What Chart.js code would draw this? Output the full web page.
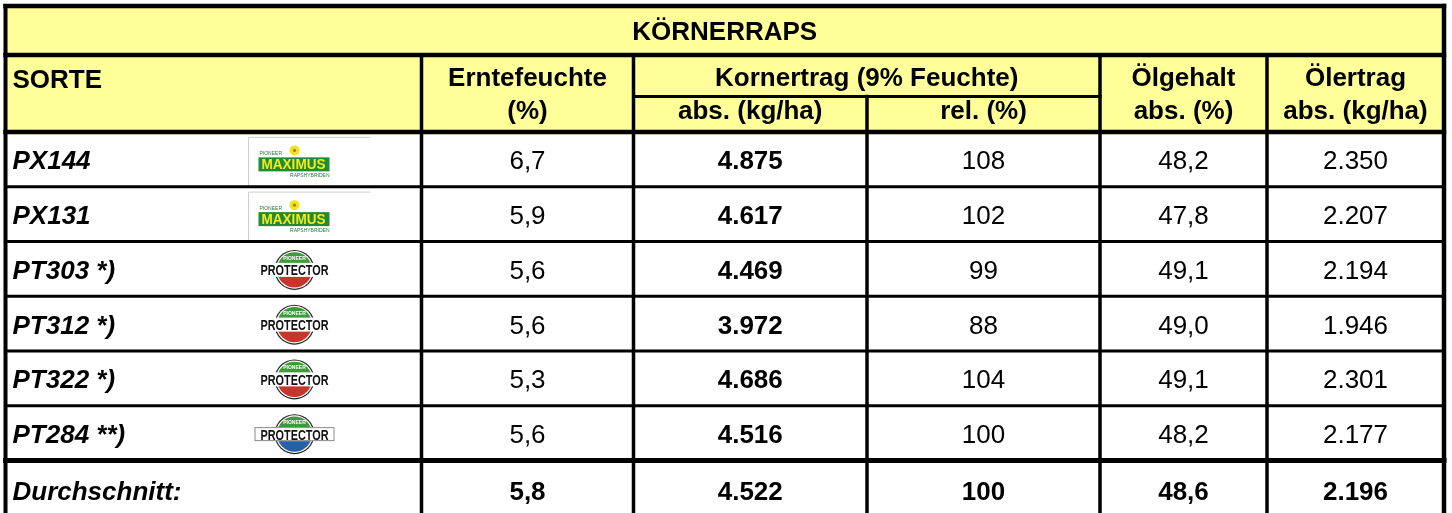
<!DOCTYPE html>
<html lang="de">
<head>
<meta charset="utf-8">
<title>Körnerraps</title>
<script src="https://cdn.jsdelivr.net/npm/chart.js@4.4.1/dist/chart.umd.min.js"></script>
<style>
    html, body { margin: 0; padding: 0; background: #fff; overflow: hidden; }
    #wrap { position: relative; width: 1452px; height: 520px; }
</style>
</head>
<body>
<div id="wrap"><canvas id="table-chart"></canvas></div>
<script>
// --- Data ---
const title = 'KÖRNERRAPS';
const sorten = ['PX144', 'PX131', 'PT303 *)', 'PT312 *)', 'PT322 *)', 'PT284 **)'];
const logos = ['maximus', 'maximus', 'protector', 'protector', 'protector', 'protector-blue'];
const erntefeuchte = [6.7, 5.9, 5.6, 5.6, 5.3, 5.6];
const kornertragAbs = [4875, 4617, 4469, 3972, 4686, 4516];
const kornertragRel = [108, 102, 99, 88, 104, 100];
const oelgehalt = [48.2, 47.8, 49.1, 49.0, 49.1, 48.2];
const oelertrag = [2350, 2207, 2194, 1946, 2301, 2177];
const durchschnittLabel = 'Durchschnitt:';
const durchschnitt = [5.8, 4522, 100, 48.6, 2196];
const decimals = [1, 0, 0, 1, 0];

// --- Layout (table units) ---
const colWidths = [416, 212, 233.5, 233, 167, 177];
const rowHeights = [49, 41.5, 35.5, 54.75, 54.75, 54.75, 54.75, 54.75, 54.75, 57];
const logoX = 288;
const YELLOW = '#ffff99';
const FONT = '"Liberation Sans", Arial, sans-serif';

const colEdges = colWidths.reduce((a, w) => { a.push(a[a.length - 1] + w); return a; }, [0]);
const rowEdges = rowHeights.reduce((a, h) => { a.push(a[a.length - 1] + h); return a; }, [0]);

function fmt(v, d) {
    const parts = v.toFixed(d).split('.');
    parts[0] = parts[0].replace(/\B(?=(\d{3})+(?!\d))/g, '.');
    return parts.join(',');
}

// --- Logo helpers ---
function drawMaximus(ctx, cx, cy) {
    // light frame
    ctx.strokeStyle = '#cfcfcf';
    ctx.lineWidth = 1;
    ctx.beginPath();
    ctx.moveTo(cx + 77, cy - 22);
    ctx.lineTo(cx - 45, cy - 22);
    ctx.lineTo(cx - 45, cy + 26);
    ctx.stroke();
    // green bar
    ctx.fillStyle = '#1e8a3a';
    ctx.fillRect(cx - 35, cy - 2, 71, 14);
    ctx.save();
    ctx.fillStyle = '#f4ea1c';
    ctx.font = 'bold 14px ' + FONT;
    ctx.textAlign = 'center';
    ctx.textBaseline = 'alphabetic';
    const w = ctx.measureText('MAXIMUS').width;
    ctx.translate(cx, cy + 10);
    ctx.scale(64 / w, 1);
    ctx.fillText('MAXIMUS', 0, 0);
    ctx.restore();
    // flower
    ctx.fillStyle = '#f6e21a';
    ctx.beginPath();
    ctx.arc(cx + 1, cy - 9, 5, 0, Math.PI * 2);
    ctx.fill();
    ctx.fillStyle = '#9a8a10';
    ctx.beginPath();
    ctx.arc(cx + 1, cy - 9, 1.6, 0, Math.PI * 2);
    ctx.fill();
    // tiny captions
    ctx.fillStyle = '#2a7a3a';
    ctx.font = '5px ' + FONT;
    ctx.textAlign = 'left';
    ctx.fillText('PIONEER', cx - 34, cy - 4);
    ctx.textAlign = 'right';
    ctx.fillText('RAPSHYBRIDEN', cx + 36, cy + 18);
}

function drawProtector(ctx, cx, cy, blue) {
    const r = 20;
    ctx.save();
    ctx.fillStyle = '#222';
    ctx.beginPath();
    ctx.arc(cx, cy, r, 0, Math.PI * 2);
    ctx.fill();
    ctx.fillStyle = '#fff';
    ctx.beginPath();
    ctx.arc(cx, cy, r - 1.2, 0, Math.PI * 2);
    ctx.fill();
    ctx.beginPath();
    ctx.arc(cx, cy, r - 2.4, 0, Math.PI * 2);
    ctx.clip();
    ctx.fillStyle = '#3f9a3a';
    ctx.fillRect(cx - r, cy - r, 2 * r, r);
    ctx.fillStyle = blue ? '#2560a8' : '#c8352c';
    ctx.fillRect(cx - r, cy, 2 * r, r);
    ctx.restore();
    // band with wordmark
    const half = blue ? 40 : 35;
    ctx.fillStyle = '#fff';
    ctx.fillRect(cx - half, cy - 7, 2 * half, 14);
    if (blue) {
        ctx.strokeStyle = '#8a8a8a';
        ctx.lineWidth = 1;
        ctx.strokeRect(cx - half + 0.5, cy - 6.5, 2 * half - 1, 13);
    }
    ctx.save();
    ctx.fillStyle = '#111';
    ctx.font = 'bold 15px ' + FONT;
    ctx.textAlign = 'center';
    ctx.textBaseline = 'alphabetic';
    const w = ctx.measureText('PROTECTOR').width;
    ctx.translate(cx, cy + 5.5);
    ctx.scale((2 * 34) / w, 1);
    ctx.fillText('PROTECTOR', 0, 0);
    ctx.restore();
    ctx.fillStyle = '#fff';
    ctx.font = 'bold 5px ' + FONT;
    ctx.textAlign = 'center';
    ctx.fillText('PIONEER', cx, cy - 10);
}

// --- Table plugin: every cell placed through the chart's scales ---
const tablePlugin = {
    id: 'tablePlugin',
    afterDraw(chart) {
        const ctx = chart.ctx;
        const xs = chart.scales.x, ys = chart.scales.y;
        const X = v => xs.getPixelForValue(v);
        const Y = v => ys.getPixelForValue(v);
        const L = colEdges[0], R = colEdges[colEdges.length - 1];
        const nData = sorten.length;

        ctx.save();
        // backgrounds
        ctx.fillStyle = '#fff';
        ctx.fillRect(X(L), Y(0), X(R) - X(L), Y(rowEdges[rowEdges.length - 1]) - Y(0));
        ctx.fillStyle = YELLOW;
        ctx.fillRect(X(L), Y(0), X(R) - X(L), Y(rowEdges[3]) - Y(0));

        // text helper
        const text = (s, x, y, font, align) => {
            ctx.font = font;
            ctx.textAlign = align || 'center';
            ctx.textBaseline = 'alphabetic';
            ctx.fillStyle = '#000';
            ctx.fillText(s, x, y);
        };
        const mid = (a, b) => (X(a) + X(b)) / 2;
        const bold = 'bold 26px ' + FONT;
        const reg = '26px ' + FONT;

        // title
        text(title, mid(L, R), Y(rowEdges[1]) - 15, bold);

        // header
        const h1 = Y(rowEdges[1]) + 31;
        const h2 = Y(rowEdges[3]) - 13;
        text('SORTE', X(L) + 7, Y(rowEdges[1]) + 33, bold, 'left');
        text('Erntefeuchte', mid(colEdges[1], colEdges[2]), h1, bold);
        text('(%)', mid(colEdges[1], colEdges[2]), h2, bold);
        text('Kornertrag (9% Feuchte)', mid(colEdges[2], colEdges[4]), h1, bold);
        text('abs. (kg/ha)', mid(colEdges[2], colEdges[3]), h2, bold);
        text('rel. (%)', mid(colEdges[3], colEdges[4]), h2, bold);
        text('Ölgehalt', mid(colEdges[4], colEdges[5]), h1, bold);
        text('abs. (%)', mid(colEdges[4], colEdges[5]), h2, bold);
        text('Ölertrag', mid(colEdges[5], colEdges[6]), h1, bold);
        text('abs. (kg/ha)', mid(colEdges[5], colEdges[6]), h2, bold);

        // data rows
        const series = [erntefeuchte, kornertragAbs, kornertragRel, oelgehalt, oelertrag];
        for (let i = 0; i < nData; i++) {
            const top = Y(rowEdges[3 + i]), bot = Y(rowEdges[4 + i]);
            const cy = (top + bot) / 2;
            const base = cy + 10;
            text(sorten[i], X(L) + 7, base, 'italic bold 26px ' + FONT, 'left');
            if (logos[i] === 'maximus') drawMaximus(ctx, X(logoX), cy);
            else drawProtector(ctx, X(logoX + 1), cy + 1, logos[i] === 'protector-blue');
            series.forEach((arr, c) => {
                text(fmt(arr[i], decimals[c]), mid(colEdges[c + 1], colEdges[c + 2]), base, c === 1 ? bold : reg);
            });
        }

        // average row
        const aTop = Y(rowEdges[3 + nData]);
        const aBase = aTop + 39;
        text(durchschnittLabel, X(L) + 7, aBase, 'italic bold 26px ' + FONT, 'left');
        durchschnitt.forEach((v, c) => {
            text(fmt(v, decimals[c]), mid(colEdges[c + 1], colEdges[c + 2]), aBase, bold);
        });

        // grid lines
        ctx.strokeStyle = '#000';
        ctx.lineCap = 'square';
        const hline = (yv, x0, x1, w) => {
            ctx.lineWidth = w;
            ctx.beginPath();
            ctx.moveTo(X(x0), Y(yv));
            ctx.lineTo(X(x1), Y(yv));
            ctx.stroke();
        };
        const vline = (xv, y0, y1, w) => {
            ctx.lineWidth = w;
            ctx.beginPath();
            ctx.moveTo(X(xv), Y(y0));
            ctx.lineTo(X(xv), Y(y1));
            ctx.stroke();
        };
        const bottom = rowEdges[rowEdges.length - 1];
        hline(rowEdges[0], L, R, 4.5);
        hline(rowEdges[1], L, R, 4.5);
        hline(rowEdges[2], colEdges[2], colEdges[4], 3);
        hline(rowEdges[3], L, R, 4.5);
        for (let i = 1; i < nData; i++) hline(rowEdges[3 + i], L, R, 3);
        hline(rowEdges[3 + nData], L, R, 5);
        hline(bottom, L, R, 4.5);
        vline(L, rowEdges[0], bottom, 4);
        vline(R, rowEdges[0], bottom, 4.5);
        [1, 2, 4, 5].forEach(k => vline(colEdges[k], rowEdges[1], bottom, 3.5));
        vline(colEdges[3], rowEdges[2], bottom, 3.5);
        ctx.restore();
    }
};

new Chart(document.getElementById('table-chart'), {
    type: 'scatter',
    data: { datasets: [] },
    options: {
        responsive: true,
        maintainAspectRatio: false,
        animation: false,
        events: [],
        layout: { padding: { left: 5.5, right: 8, top: 6, bottom: 2.5 } },
        plugins: { legend: { display: false }, tooltip: { enabled: false } },
        scales: {
            x: { type: 'linear', display: false, min: colEdges[0], max: colEdges[colEdges.length - 1] },
            y: { type: 'linear', display: false, reverse: true, min: rowEdges[0], max: rowEdges[rowEdges.length - 1] }
        }
    },
    plugins: [tablePlugin]
});
</script>
</body>
</html>
